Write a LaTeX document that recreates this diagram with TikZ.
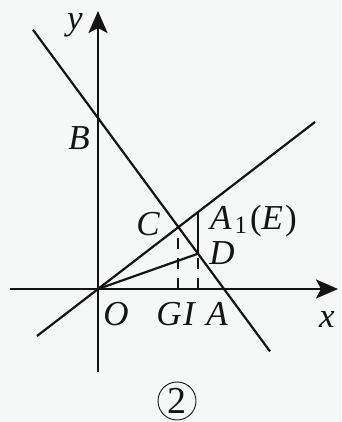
\documentclass[tikz,border=0pt]{standalone}
\usepackage{fontspec}
\setmainfont{Liberation Serif}
\usetikzlibrary{arrows.meta}
\definecolor{bg}{RGB}{246,247,247}
\definecolor{ink}{RGB}{20,20,20}
\begin{document}
\begin{tikzpicture}[x=1pt,y=1pt,
  axis/.style={draw=ink,line width=2.6pt,-{Stealth[length=22pt,width=19pt,inset=5pt]}},
  gline/.style={draw=ink,line width=2.2pt},
  dashline/.style={draw=ink,line width=2pt,dash pattern=on 11pt off 9pt},
  lbl/.style={inner sep=0pt,text=ink,font=\fontsize{35}{35}\selectfont\itshape}]
\fill[bg] (0,0) rectangle (341,422);
\useasboundingbox (0,0) rectangle (341,422);
% base points
\coordinate (O) at (98,133);
\coordinate (B) at (98,304);
\coordinate (A) at (224,133);
\coordinate (L1) at (33,392.2);
\coordinate (L2) at (270,70.6);
\coordinate (M1) at (37,86);
\coordinate (M2) at (315,300);
\coordinate (XL) at (10,133);
\coordinate (XR) at (338,133);
\coordinate (YB) at (98,50);
\coordinate (YT) at (98,411);
\coordinate (C) at (intersection of M1--M2 and L1--L2);
\coordinate (A1) at (198,210);
\coordinate (D) at (intersection of A1--{198,100} and L1--L2);
\coordinate (G) at (C |- O);
\coordinate (I) at (D |- O);
% axes
\draw[axis] (XL) -- (XR);
\draw[axis] (YB) -- (YT);
% lines
\draw[gline] (L1) -- (L2);
\draw[gline] (M1) -- (M2);
\draw[gline] (O) -- (D);
\draw[gline] (A1) -- (D);
\draw[dashline] (G) -- (C);
\draw[dashline] (I) -- (D);
% labels
\node[lbl] (ly) at (75,397) {y};
\node[lbl] (lB) at (79,284) {B};
\node[lbl] (lC) at (148,198) {C};
\node[lbl,anchor=base west] (lA1) at (210,192) {A\kern3pt\textup{\fontsize{25}{25}\selectfont\raisebox{-4pt}{1}}\kern3pt\textup{(}E\kern2pt\textup{)}};
\node[lbl] (lD) at (222,169) {D};
\node[lbl] (lO) at (116,108) {O};
\node[lbl] (lG) at (169,108) {G};
\node[lbl] (lI) at (189,108) {I};
\node[lbl] (lA) at (217,108) {A};
\node[lbl] (lx) at (327,103) {x};
\node[circle,draw=ink,line width=0.9pt,inner sep=0pt,minimum size=38pt,text=ink,font=\fontsize{38}{38}\selectfont] (c2) at (177,21) {2};
\end{tikzpicture}
\end{document}
